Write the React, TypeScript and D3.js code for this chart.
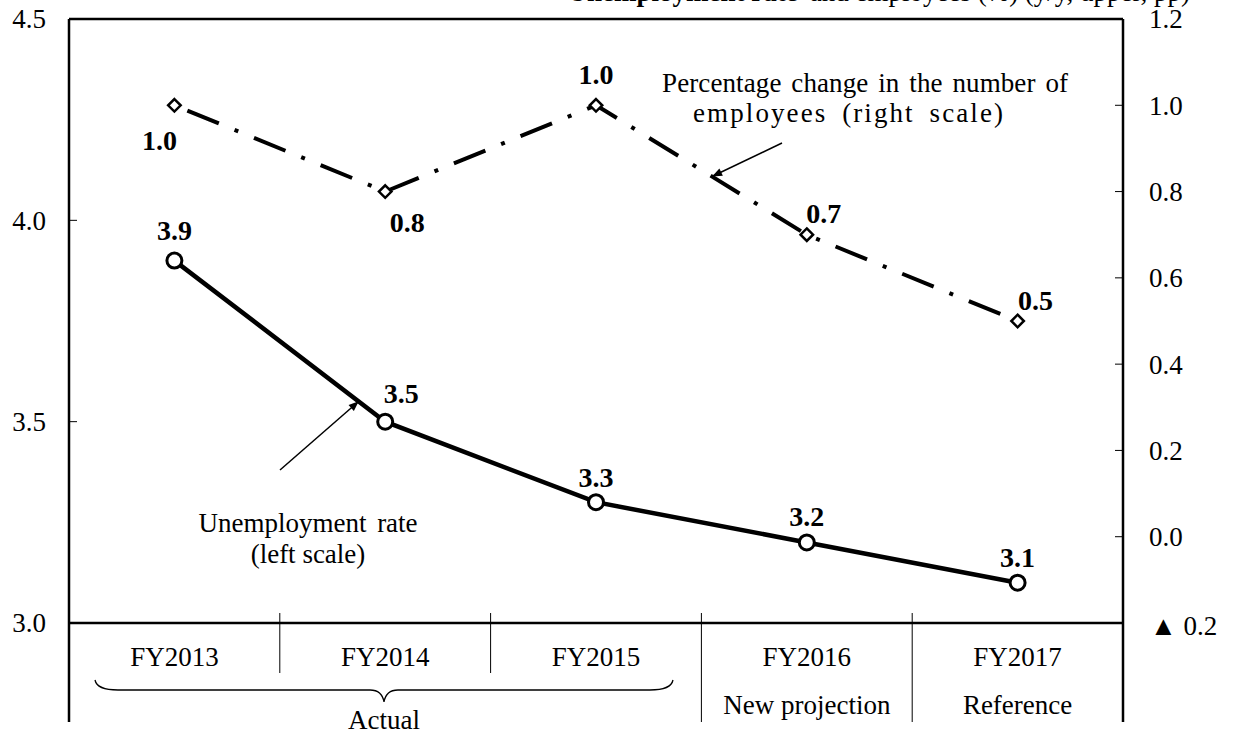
import * as d3 from "d3";

// Chart data
const categories = ["FY2013", "FY2014", "FY2015", "FY2016", "FY2017"];
const subLabels = ["", "", "", "New projection", "Reference"];
const unemploymentRate = [3.9, 3.5, 3.3, 3.2, 3.1];
const employeesChange = [1.0, 0.8, 1.0, 0.7, 0.5];
const leftTicks = [3.0, 3.5, 4.0, 4.5];
const rightTicks = [-0.2, 0.0, 0.2, 0.4, 0.6, 0.8, 1.0, 1.2];

const W = 1234;
const H = 736;
const left = 69;
const right = 1123;
const top = 19;
const bottom = 623;
const font = "'Liberation Serif', 'Times New Roman', serif";
const fs = 27;

// offsets of the value labels (baseline) relative to each point
const unempLabelDx = [0, 16, 0, 0, 0];
const unempLabelDy = [-21, -19, -15, -16, -16];
const empLabelDx = [-15, 22, 0, 17, 18];
const empLabelDy = [45, 40, -21, -12, -11];

export default function App(): JSX.Element {
    const x = d3.scaleBand<string>().domain(categories).range([left, right]);
    const yL = d3.scaleLinear().domain([3.0, 4.5]).range([bottom, top]);
    const yR = d3.scaleLinear().domain([-0.2, 1.2]).range([bottom, top]);
    const cx = (c: string) => (x(c) ?? 0) + x.bandwidth() / 2;

    const unempLine = d3.line<number>()
        .x((_, i) => cx(categories[i]))
        .y(d => yL(d));
    const empLine = d3.line<number>()
        .x((_, i) => cx(categories[i]))
        .y(d => yR(d));

    const diamond = d3.symbol().type(d3.symbolDiamond2).size(100);

    const bounds = categories.map(c => x(c) ?? 0);

    return (
        <svg width={W} height={H} style={{ position: "absolute", left: 0, top: 0, background: "#fff" }}
            fontFamily={font}>
            <defs>
                <marker id="arrow" viewBox="0 0 10 10" refX="9" refY="5" markerWidth="12" markerHeight="10"
                    orient="auto-start-reverse" markerUnits="userSpaceOnUse">
                    <path d="M0,1 L10,5 L0,9 z" fill="#000" />
                </marker>
            </defs>

            {/* header, cut off at the top edge of the picture */}
            <text x={1190} y={1} textAnchor="end" fontSize={fs}>
                <tspan fontWeight="bold">Unemployment rate</tspan>
                <tspan dx={12}>and employees (%)  (y/y, upper, pp)</tspan>
            </text>

            {/* plot frame */}
            <line x1={left} x2={left} y1={top} y2={722} stroke="#000" strokeWidth={2.5} />
            <line x1={right} x2={right} y1={top} y2={722} stroke="#000" strokeWidth={2.5} />
            <line x1={left} x2={right} y1={top} y2={top} stroke="#000" strokeWidth={2.5} />
            <line x1={left} x2={right} y1={bottom} y2={bottom} stroke="#000" strokeWidth={2.5} />

            {/* left ticks */}
            {leftTicks.map(t => (
                <g key={"l" + t}>
                    <line x1={left} x2={left + 8} y1={yL(t)} y2={yL(t)} stroke="#000" strokeWidth={1} />
                    <text x={46} y={yL(t)} dy="0.35em" textAnchor="end" fontSize={fs}>{t.toFixed(1)}</text>
                </g>
            ))}

            {/* right ticks */}
            {rightTicks.map(t => (
                <g key={"r" + t}>
                    <line x1={right - 8} x2={right} y1={yR(t)} y2={yR(t)} stroke="#000" strokeWidth={1} />
                    <text x={t < 0 ? 1150 : 1149} y={yR(t) + (t < 0 ? 3 : 0)} dy="0.35em" fontSize={fs}>
                        {t < 0 ? "▲ " + Math.abs(t).toFixed(1) : t.toFixed(1)}
                    </text>
                </g>
            ))}

            {/* category dividers */}
            {bounds.slice(1).map((b, i) => (
                <line key={"d" + i} x1={b} x2={b} y1={bottom - 10} y2={i < 2 ? 673 : 722}
                    stroke="#000" strokeWidth={1} />
            ))}

            {/* category labels */}
            {categories.map((c, i) => (
                <g key={c}>
                    <text x={cx(c)} y={666} textAnchor="middle" fontSize={fs}>{c}</text>
                    {subLabels[i] && (
                        <text x={cx(c)} y={714} textAnchor="middle" fontSize={fs}>{subLabels[i]}</text>
                    )}
                </g>
            ))}

            {/* brace for the actual years */}
            <path d="M95,680 Q97,690 118,690 L370,690 Q382,690 384,702 Q386,690 398,690 L650,690 Q671,690 673,680"
                fill="none" stroke="#000" strokeWidth={1.3} />
            <text x={384} y={729} textAnchor="middle" fontSize={fs}>Actual</text>

            {/* employees, dash-dot line */}
            <path d={empLine(employeesChange) ?? ""} fill="none" stroke="#000" strokeWidth={4}
                strokeDasharray="34 17 4 17" strokeDashoffset={-14} />
            {employeesChange.map((v, i) => (
                <g key={"e" + i}>
                    <path d={diamond() ?? ""} transform={`translate(${cx(categories[i])},${yR(v)})`}
                        fill="#fff" stroke="#000" strokeWidth={2.5} />
                    <text x={cx(categories[i]) + empLabelDx[i]} y={yR(v) + empLabelDy[i]} textAnchor="middle"
                        fontSize={28} fontWeight="bold">{v.toFixed(1)}</text>
                </g>
            ))}

            {/* unemployment, solid line */}
            <path d={unempLine(unemploymentRate) ?? ""} fill="none" stroke="#000" strokeWidth={4.5} />
            {unemploymentRate.map((v, i) => (
                <g key={"u" + i}>
                    <circle cx={cx(categories[i])} cy={yL(v)} r={7.5} fill="#fff" stroke="#000" strokeWidth={3} />
                    <text x={cx(categories[i]) + unempLabelDx[i]} y={yL(v) + unempLabelDy[i]} textAnchor="middle"
                        fontSize={28} fontWeight="bold">{v.toFixed(1)}</text>
                </g>
            ))}

            {/* annotations */}
            <text x={662} y={92} fontSize={fs} wordSpacing={3} textLength={406} lengthAdjust="spacing">
                Percentage change in the number of
            </text>
            <text x={693} y={122} fontSize={fs} wordSpacing={6} textLength={310} lengthAdjust="spacing">
                employees (right scale)
            </text>
            <line x1={782} y1={143} x2={713} y2={176} stroke="#000" strokeWidth={1.5} markerEnd="url(#arrow)" />

            <text x={308} y={532} textAnchor="middle" fontSize={fs} wordSpacing={4}>Unemployment rate</text>
            <text x={308} y={563} textAnchor="middle" fontSize={fs}>(left scale)</text>
            <line x1={280} y1={470} x2={358} y2={402} stroke="#000" strokeWidth={1.5} markerEnd="url(#arrow)" />
        </svg>
    );
}
